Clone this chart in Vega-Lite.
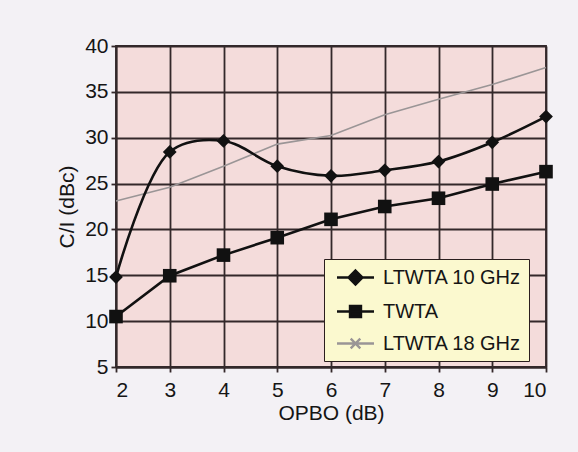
{
  "$schema": "https://vega.github.io/schema/vega-lite/v6.json",
  "width": 430,
  "height": 321,
  "autosize": {"type": "none"},
  "padding": {"left": 116, "top": 46, "right": 32, "bottom": 85},
  "background": "#f3f1f5",
  "data": {"values": [
    {"opbo": 2, "ci": 14.8, "series": "LTWTA 10 GHz"},
    {"opbo": 3, "ci": 28.45, "series": "LTWTA 10 GHz"},
    {"opbo": 4, "ci": 29.65, "series": "LTWTA 10 GHz"},
    {"opbo": 5, "ci": 26.9, "series": "LTWTA 10 GHz"},
    {"opbo": 6, "ci": 25.85, "series": "LTWTA 10 GHz"},
    {"opbo": 7, "ci": 26.45, "series": "LTWTA 10 GHz"},
    {"opbo": 8, "ci": 27.4, "series": "LTWTA 10 GHz"},
    {"opbo": 9, "ci": 29.5, "series": "LTWTA 10 GHz"},
    {"opbo": 10, "ci": 32.3, "series": "LTWTA 10 GHz"},
    {"opbo": 2, "ci": 10.5, "series": "TWTA"},
    {"opbo": 3, "ci": 14.95, "series": "TWTA"},
    {"opbo": 4, "ci": 17.2, "series": "TWTA"},
    {"opbo": 5, "ci": 19.1, "series": "TWTA"},
    {"opbo": 6, "ci": 21.1, "series": "TWTA"},
    {"opbo": 7, "ci": 22.5, "series": "TWTA"},
    {"opbo": 8, "ci": 23.4, "series": "TWTA"},
    {"opbo": 9, "ci": 24.95, "series": "TWTA"},
    {"opbo": 10, "ci": 26.3, "series": "TWTA"},
    {"opbo": 2, "ci": 23.1, "series": "LTWTA 18 GHz"},
    {"opbo": 3, "ci": 24.6, "series": "LTWTA 18 GHz"},
    {"opbo": 4, "ci": 26.9, "series": "LTWTA 18 GHz"},
    {"opbo": 5, "ci": 29.3, "series": "LTWTA 18 GHz"},
    {"opbo": 6, "ci": 30.25, "series": "LTWTA 18 GHz"},
    {"opbo": 7, "ci": 32.5, "series": "LTWTA 18 GHz"},
    {"opbo": 8, "ci": 34.2, "series": "LTWTA 18 GHz"},
    {"opbo": 9, "ci": 35.8, "series": "LTWTA 18 GHz"},
    {"opbo": 10, "ci": 37.65, "series": "LTWTA 18 GHz"}
  ]},
  "config": {
    "font": "Liberation Sans",
    "view": {"fill": "#f4dcdb", "stroke": "#33282a", "strokeWidth": 1.8},
    "axis": {
      "labelFont": "Liberation Sans",
      "titleFont": "Liberation Sans",
      "labelFontSize": 21,
      "titleFontSize": 21,
      "labelColor": "#151515",
      "titleColor": "#151515",
      "titleFontWeight": "normal",
      "gridColor": "#33282a",
      "gridWidth": 1.8,
      "gridOpacity": 1,
      "domainColor": "#33282a",
      "domainWidth": 1.8,
      "tickColor": "#33282a",
      "tickWidth": 1.8,
      "tickSize": 5
    }
  },
  "encoding": {
    "x": {"field": "opbo", "type": "quantitative",
      "scale": {"domain": [2, 10], "nice": false},
      "axis": {"title": "OPBO (dB)", "values": [2,3,4,5,6,7,8,9,10], "labelPadding": 7, "titlePadding": 2}},
    "y": {"field": "ci", "type": "quantitative",
      "scale": {"domain": [5, 40], "nice": false, "zero": false},
      "axis": {"title": "C/I (dBc)", "values": [5,10,15,20,25,30,35,40], "labelPadding": 3, "titlePadding": 7}}
  },
  "layer": [
    {
      "transform": [{"filter": "datum.series === 'LTWTA 18 GHz'"}],
      "mark": {"type": "line", "color": "#9a9596", "strokeWidth": 1.6}
    },
    {
      "transform": [{"filter": "datum.series === 'LTWTA 10 GHz'"}],
      "mark": {"type": "line", "color": "#111111", "strokeWidth": 2.6, "interpolate": "catmull-rom"}
    },
    {
      "transform": [{"filter": "datum.series === 'TWTA'"}],
      "mark": {"type": "line", "color": "#111111", "strokeWidth": 2.6}
    },
    {
      "transform": [{"filter": "datum.series === 'LTWTA 10 GHz'"}],
      "mark": {"type": "point", "shape": "diamond", "filled": true, "color": "#111111", "size": 190, "opacity": 1}
    },
    {
      "transform": [{"filter": "datum.series === 'TWTA'"}],
      "mark": {"type": "point", "shape": "square", "filled": true, "color": "#111111", "size": 185, "opacity": 1}
    },
    {
      "mark": {"type": "point", "filled": false, "opacity": 0, "strokeWidth": 2.4},
      "encoding": {
        "shape": {"field": "series", "type": "nominal",
          "scale": {"domain": ["LTWTA 10 GHz", "TWTA", "LTWTA 18 GHz"],
            "range": ["M-1.85,0H1.85M0,-0.7L0.7,0L0,0.7L-0.7,0Z", "M-1.85,0H1.85M-0.55,-0.55H0.55V0.55H-0.55Z", "M-1.85,0H1.85M-0.48,-0.48L0.48,0.48M-0.48,0.48L0.48,-0.48"]},
          "legend": {
            "title": null, "orient": "none", "legendX": 208, "legendY": 213,
            "symbolSize": 400, "symbolOpacity": 1, "symbolStrokeWidth": 2.4,
            "symbolOffset": 13,
            "labelFontSize": 20, "labelFont": "Liberation Sans", "labelColor": "#151515",
            "fillColor": "#fbf9cf", "strokeColor": "#2a1e1e",
            "padding": 7, "rowPadding": 10, "labelOffset": 16
          }},
        "stroke": {"field": "series", "type": "nominal",
          "scale": {"domain": ["LTWTA 10 GHz", "TWTA", "LTWTA 18 GHz"], "range": ["#111111", "#111111", "#9a9596"]}},
        "fill": {"field": "series", "type": "nominal",
          "scale": {"domain": ["LTWTA 10 GHz", "TWTA", "LTWTA 18 GHz"], "range": ["#111111", "#111111", "transparent"]}}
      }
    }
  ]
}
